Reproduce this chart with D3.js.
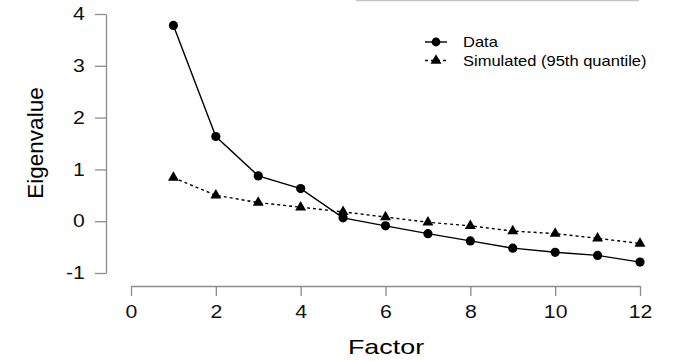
<!DOCTYPE html>
<html>
<head>
  <meta charset="utf-8">
  <title>Scree plot</title>
  <script src="https://d3js.org/d3.v7.min.js"></script>
  <style>
    body { margin: 0; background: #fff; }
    text { font-family: "Liberation Sans", Arial, sans-serif; }
    .axis path, .axis line { stroke: #8c8c8c; stroke-width: 1.3; }
  </style>
</head>
<body>
  <div id="chart"></div>
  <script>
    // values
    const factors = [1, 2, 3, 4, 5, 6, 7, 8, 9, 10, 11, 12];
    const dataEigen = [3.78, 1.635, 0.875, 0.63, 0.065, -0.09, -0.24, -0.38, -0.52, -0.60, -0.66, -0.79];
    const simEigen = [0.84, 0.50, 0.36, 0.27, 0.18, 0.08, -0.02, -0.09, -0.19, -0.24, -0.33, -0.43];
    const xTicks = [0, 2, 4, 6, 8, 10, 12];
    const yTicks = [-1, 0, 1, 2, 3, 4];
    const legendLabels = ["Data", "Simulated (95th quantile)"];

    const W = 698, H = 362;
    // the original picture is a bit stretched sideways, so the text is too
    const stretch = 1.18;

    const svg = d3.select("#chart")
      .append("svg")
      .attr("width", W)
      .attr("height", H);

    const x = d3.scaleLinear().domain([0, 12]).range([131, 640]);
    const y = d3.scaleLinear().domain([-1, 4]).range([273, 14]);

    // faint line at the very top of the picture
    svg.append("line")
      .attr("x1", 356).attr("x2", 639)
      .attr("y1", 0.5).attr("y2", 0.5)
      .attr("stroke", "#c4c4c4")
      .attr("stroke-width", 1.5);

    // axes, R style (detached from plot area)
    const fmt = d => String(d);

    const xAxis = svg.append("g")
      .attr("class", "axis")
      .attr("transform", "translate(0,286)")
      .call(d3.axisBottom(x).tickValues(xTicks).tickFormat(fmt).tickSize(10).tickSizeOuter(0).tickPadding(6));
    xAxis.selectAll("text")
      .attr("dy", "0.9em")
      .attr("transform", "scale(" + stretch + ",1)")
      .style("font-size", "18px")
      .attr("fill", "#111");

    const yAxis = svg.append("g")
      .attr("class", "axis")
      .attr("transform", "translate(106,0)")
      .call(d3.axisLeft(y).tickValues(yTicks).tickFormat(fmt).tickSize(11).tickSizeOuter(0).tickPadding(7));
    yAxis.selectAll("text")
      .attr("transform", "scale(" + stretch + ",1)")
      .style("font-size", "18px")
      .attr("fill", "#111");

    // axis titles
    svg.append("text")
      .attr("transform", "translate(386,354) scale(1.28,1)")
      .attr("text-anchor", "middle")
      .style("font-size", "21px")
      .text("Factor");

    svg.append("text")
      .attr("transform", "translate(43,143) rotate(-90)")
      .attr("text-anchor", "middle")
      .style("font-size", "22.5px")
      .text("Eigenvalue");

    const line = d3.line()
      .x((d, i) => x(factors[i]))
      .y(d => y(d));

    // simulated series (dashed, triangles)
    svg.append("path")
      .datum(simEigen)
      .attr("fill", "none")
      .attr("stroke", "#000")
      .attr("stroke-width", 1.4)
      .attr("stroke-dasharray", "3,3")
      .attr("d", line);

    // data series (solid, circles)
    svg.append("path")
      .datum(dataEigen)
      .attr("fill", "none")
      .attr("stroke", "#000")
      .attr("stroke-width", 1.4)
      .attr("d", line);

    const tri = d3.symbol().type(d3.symbolTriangle).size(52);

    svg.selectAll(".tri")
      .data(simEigen)
      .enter()
      .append("path")
      .attr("class", "tri")
      .attr("transform", (d, i) => "translate(" + x(factors[i]) + "," + y(d) + ")")
      .attr("d", tri)
      .attr("fill", "#000");

    svg.selectAll(".dot")
      .data(dataEigen)
      .enter()
      .append("circle")
      .attr("class", "dot")
      .attr("cx", (d, i) => x(factors[i]))
      .attr("cy", d => y(d))
      .attr("r", 4.6)
      .attr("fill", "#000");

    // legend
    const legend = svg.append("g").attr("transform", "translate(425,42)");
    legendLabels.forEach(function(label, i) {
      const g = legend.append("g").attr("transform", "translate(0," + (i * 18.5) + ")");
      g.append("line")
        .attr("x1", 0).attr("x2", 22)
        .attr("stroke", "#000")
        .attr("stroke-width", 1.4)
        .attr("stroke-dasharray", i === 0 ? null : "3,3");
      if (i === 0) {
        g.append("circle").attr("cx", 11).attr("r", 4.4).attr("fill", "#000");
      } else {
        g.append("path").attr("transform", "translate(11,0)").attr("d", tri).attr("fill", "#000");
      }
      g.append("text")
        .attr("transform", "translate(38,5) scale(" + stretch + ",1)")
        .style("font-size", "14px")
        .text(label);
    });
  </script>
</body>
</html>
